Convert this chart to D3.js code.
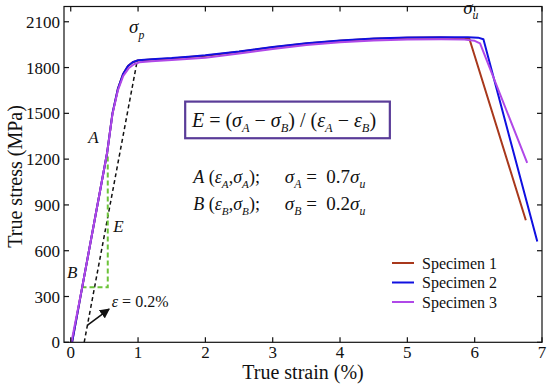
<!DOCTYPE html>
<html>
<head>
<meta charset="utf-8">
<script src="https://cdn.jsdelivr.net/npm/d3@7"></script>
<style>
  body { margin: 0; background: white; }
  #chart text { font-family: "Liberation Serif", serif; }
</style>
</head>
<body>
<svg id="chart" width="550" height="385">
  <rect width="550" height="385" fill="white"></rect>
  <text id="xtitle" font-family="Liberation Serif" font-size="20" text-anchor="middle" fill="#111">True strain (%)</text>
  <text id="ytitle" font-family="Liberation Serif" font-size="20" text-anchor="middle" fill="#111">True stress (MPa)</text>
  <text id="lblA" font-family="Liberation Serif" font-size="17" font-style="italic" fill="#111">A</text>
</svg>
<script>
// ---- data (strain %, stress MPa) ----
const spec1Strain = [0.02, 0.17, 0.54, 0.62, 0.70, 0.78, 0.85, 0.92, 1.0, 1.2, 1.5, 1.8, 2.0, 2.5, 3.0, 3.5, 4.0, 4.5, 5.0, 5.5, 5.92, 6.76];
const spec1Stress = [0, 360, 1240, 1500, 1660, 1760, 1810, 1835, 1846, 1853, 1860, 1870, 1878, 1903, 1933, 1958, 1976, 1988, 1995, 1997, 1990, 800];
const spec2Strain = [0.02, 0.17, 0.54, 0.62, 0.70, 0.78, 0.85, 0.92, 1.0, 1.2, 1.5, 1.8, 2.0, 2.5, 3.0, 3.5, 4.0, 4.5, 5.0, 5.5, 5.9, 6.05, 6.13, 6.93];
const spec2Stress = [0, 360, 1240, 1500, 1660, 1760, 1810, 1835, 1848, 1855, 1862, 1872, 1880, 1905, 1935, 1960, 1978, 1990, 1997, 1999, 1998, 1996, 1985, 660];
const spec3Strain = [0.01, 0.17, 0.54, 0.62, 0.70, 0.78, 0.86, 0.94, 1.02, 1.2, 1.5, 2.0, 2.5, 3.0, 3.5, 4.0, 4.5, 5.0, 5.5, 5.85, 6.0, 6.08, 6.78];
const spec3Stress = [0, 360, 1240, 1495, 1650, 1745, 1795, 1822, 1834, 1842, 1850, 1865, 1892, 1922, 1948, 1966, 1978, 1984, 1985, 1983, 1975, 1958, 1175];
const specNames = ["Specimen 1", "Specimen 2", "Specimen 3"];
const specColors = ["#a8381c", "#1010e0", "#b048e8"];

// 0.2% offset line and the A/B construction
const offsetStrain = [0.2, 0.98];
const offsetStress = [0, 1827];
const guideStrain = [0.16, 0.55, 0.55];
const guideStress = [360, 360, 1240];
const arrowStrain = [0.25, 0.57];
const arrowStress = [113, 218];

const xTicks = [0, 1, 2, 3, 4, 5, 6, 7];
const yTicks = [0, 300, 600, 900, 1200, 1500, 1800, 2100];

// ---- layout ----
const FONT = "Liberation Serif";
const NB = "\u00a0";
const plot = { left: 64, right: 542, top: 6.5, bottom: 342.3 };
const x = d3.scaleLinear().domain([-0.1, 7]).range([plot.left, plot.right]);
const y = d3.scaleLinear().domain([0, 2200]).range([plot.bottom, plot.top]);

const svg = d3.select("#chart");

const defs = svg.append("defs");
defs.append("clipPath").attr("id", "clip")
  .append("rect")
  .attr("x", plot.left).attr("y", plot.top)
  .attr("width", plot.right - plot.left).attr("height", plot.bottom - plot.top);
defs.append("marker")
  .attr("id", "arrow")
  .attr("viewBox", "0 0 10 10")
  .attr("refX", 9).attr("refY", 5)
  .attr("markerWidth", 10).attr("markerHeight", 10)
  .attr("markerUnits", "userSpaceOnUse")
  .attr("orient", "auto")
  .append("path").attr("d", "M0,0 L10,5 L0,10 z").attr("fill", "#111");

const line = d3.line().x((d) => x(d[0])).y((d) => y(d[1]));
const zip = (a, b) => a.map((v, i) => [v, b[i]]);

const g = svg.append("g").attr("clip-path", "url(#clip)");

// offset line (black dashed)
g.append("path")
  .datum(zip(offsetStrain, offsetStress))
  .attr("d", line)
  .attr("fill", "none")
  .attr("stroke", "#111")
  .attr("stroke-width", 1.5)
  .attr("stroke-dasharray", "4,3");

// green construction
g.append("path")
  .datum(zip(guideStrain, guideStress))
  .attr("d", line)
  .attr("fill", "none")
  .attr("stroke", "#6cc33a")
  .attr("stroke-width", 2)
  .attr("stroke-dasharray", "5,3");

// specimen curves
const specs = [zip(spec1Strain, spec1Stress), zip(spec2Strain, spec2Stress), zip(spec3Strain, spec3Stress)];
g.selectAll(".spec")
  .data(specs)
  .enter()
  .append("path")
  .attr("class", "spec")
  .attr("d", line)
  .attr("fill", "none")
  .attr("stroke", (d, i) => specColors[i])
  .attr("stroke-width", 2)
  .attr("stroke-linejoin", "round");

// arrow for epsilon = 0.2%
svg.append("path")
  .datum(zip(arrowStrain, arrowStress))
  .attr("d", line)
  .attr("stroke", "#111")
  .attr("stroke-width", 1.6)
  .attr("marker-end", "url(#arrow)");

// ---- frame + inward ticks on all sides ----
const tickLen = 5;
const frame = svg.append("g").attr("stroke", "#111").attr("stroke-width", 1.2);
frame.append("rect")
  .attr("x", plot.left).attr("y", plot.top)
  .attr("width", plot.right - plot.left).attr("height", plot.bottom - plot.top)
  .attr("fill", "none");
xTicks.forEach((t) => {
  frame.append("line").attr("x1", x(t)).attr("x2", x(t)).attr("y1", plot.bottom).attr("y2", plot.bottom - tickLen);
  frame.append("line").attr("x1", x(t)).attr("x2", x(t)).attr("y1", plot.top).attr("y2", plot.top + tickLen);
});
yTicks.forEach((t) => {
  frame.append("line").attr("y1", y(t)).attr("y2", y(t)).attr("x1", plot.left).attr("x2", plot.left + tickLen);
  frame.append("line").attr("y1", y(t)).attr("y2", y(t)).attr("x1", plot.right).attr("x2", plot.right - tickLen);
});

const txt = svg.append("g").attr("fill", "#111");

txt.selectAll(".xtl")
  .data(xTicks)
  .enter()
  .append("text")
  .attr("class", "xtl")
  .attr("x", (d) => x(d))
  .attr("y", plot.bottom + 16)
  .attr("text-anchor", "middle")
  .attr("font-family", FONT)
  .attr("font-size", 17)
  .text((d) => d);

txt.selectAll(".ytl")
  .data(yTicks)
  .enter()
  .append("text")
  .attr("class", "ytl")
  .attr("x", plot.left - 4)
  .attr("y", (d) => y(d) + 6)
  .attr("text-anchor", "end")
  .attr("font-family", FONT)
  .attr("font-size", 17)
  .text((d) => d);

d3.select("#xtitle")
  .attr("x", (plot.left + plot.right) / 2)
  .attr("y", 379);
d3.select("#ytitle")
  .attr("transform", `translate(22, ${(plot.top + plot.bottom) / 2 + 2}) rotate(-90)`);

// ---- rich text helper: segments [text, italic, sub] ----
function rich(parent, px, py, size, segs) {
  const t = parent.append("text").attr("x", px).attr("y", py)
    .attr("font-family", FONT).attr("font-size", size);
  let shifted = false;
  segs.forEach(([s, it, sub]) => {
    const sp = t.append("tspan").text(s);
    if (it) sp.attr("font-style", "italic");
    if (sub && !shifted) { sp.attr("dy", size * 0.28).attr("font-size", size * 0.62); shifted = true; }
    else if (sub) sp.attr("font-size", size * 0.62);
    else if (shifted) { sp.attr("dy", -size * 0.28); shifted = false; }
  });
  return t;
}

rich(txt, x(0.866), y(2025), 19, [["σ", true], ["p", true, true]]);
rich(txt, x(5.83), y(2151), 19, [["σ", true], ["u", true, true]]);
d3.select("#lblA").attr("x", x(0.26)).attr("y", y(1306));
rich(txt, x(0.63), y(723), 17, [["E", true]]);
rich(txt, x(-0.055), y(421), 17, [["B", true]]);
rich(txt, x(0.61), y(231), 16, [["ε", true], [" = 0.2%"]]);

// formula box
txt.append("rect")
  .attr("x", x(1.70)).attr("y", y(1577))
  .attr("width", x(4.74) - x(1.70)).attr("height", y(1337) - y(1577))
  .attr("fill", "white")
  .attr("stroke", "#5a3c98")
  .attr("stroke-width", 2.2);
rich(txt, x(1.80), y(1413), 20, [
  ["E", true], [" = ("], ["σ", true], ["A", true, true], [NB + "− "], ["σ", true], ["B", true, true],
  [")" + NB + "/" + NB + "("], ["ε", true], ["A", true, true], [NB + "− "], ["ε", true], ["B", true, true], [")"]
]);

rich(txt, x(1.82), y(1044), 18, [
  ["A", true], [" ("], ["ε", true], ["A", true, true], [","], ["σ", true], ["A", true, true], [");"]
]);
rich(txt, x(3.18), y(1044), 19, [["σ", true], ["A", true, true], [NB + "=" + NB + NB + "0.7"], ["σ", true], ["u", true, true]]);
rich(txt, x(1.82), y(867), 18, [
  ["B", true], [" ("], ["ε", true], ["B", true, true], [","], ["σ", true], ["B", true, true], [");"]
]);
rich(txt, x(3.18), y(867), 19, [["σ", true], ["B", true, true], [NB + "=" + NB + NB + "0.2"], ["σ", true], ["u", true, true]]);

// ---- legend ----
const legend = svg.append("g").attr("transform", "translate(392, 263)");
const li = legend.selectAll("g").data(specNames).enter().append("g")
  .attr("transform", (d, i) => `translate(0, ${i * 19.5})`);
li.append("line").attr("x1", 0).attr("x2", 22).attr("y1", 0).attr("y2", 0)
  .attr("stroke", (d, i) => specColors[i]).attr("stroke-width", 2);
li.append("text").attr("x", 30).attr("y", 5.5)
  .attr("font-family", FONT).attr("font-size", 16).attr("fill", "#111").text((d) => d);
</script>
</body>
</html>
